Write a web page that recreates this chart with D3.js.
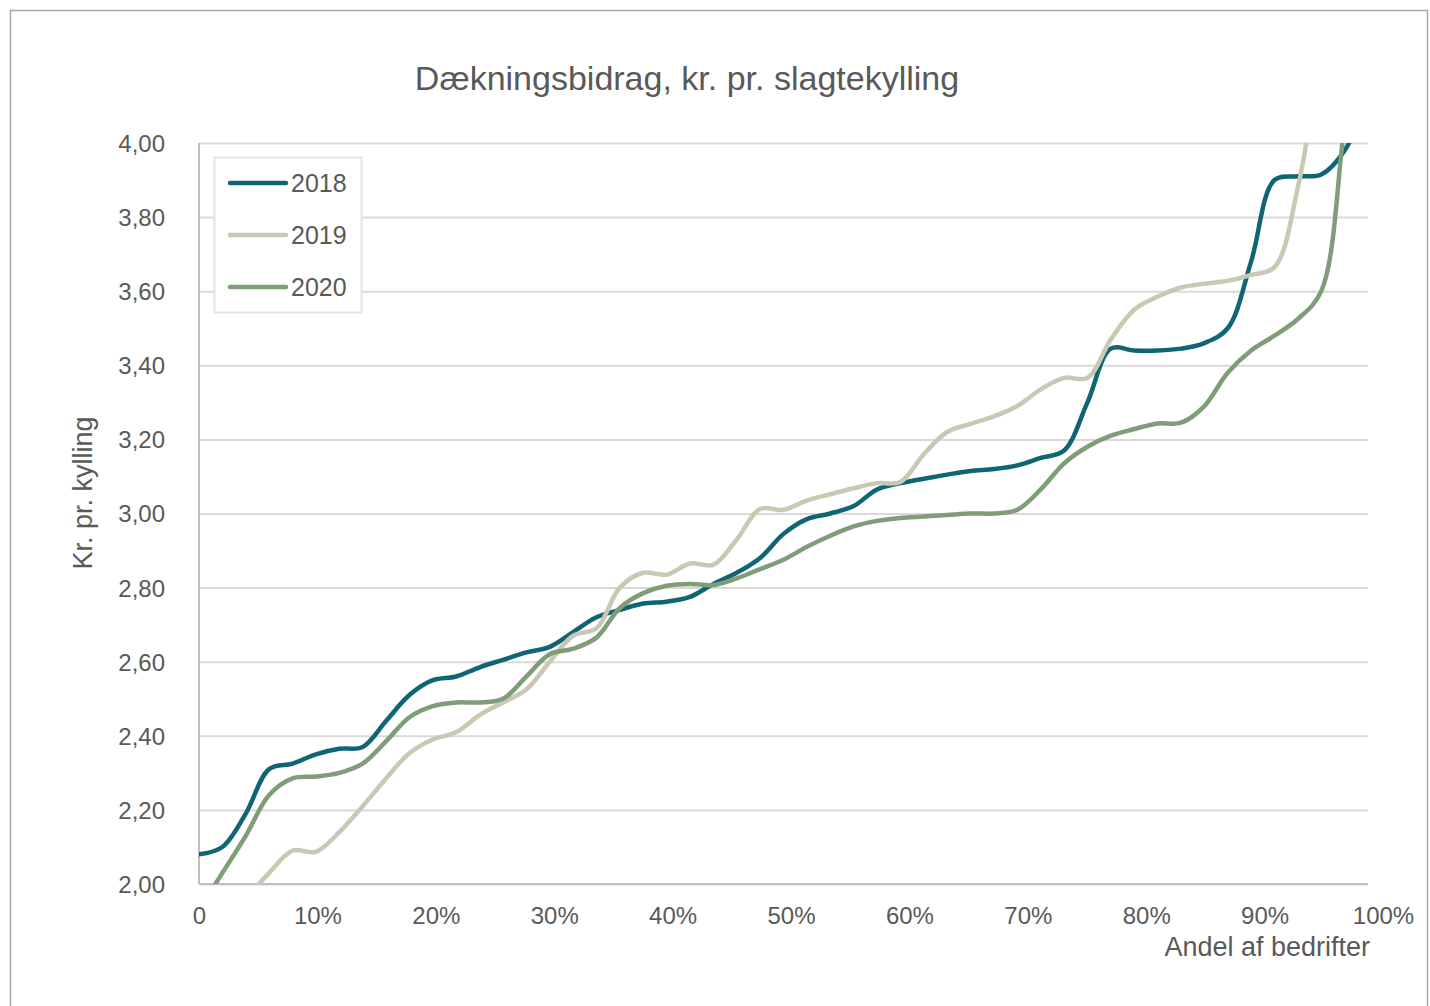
<!DOCTYPE html>
<html>
<head>
<meta charset="utf-8">
<script src="https://cdn.jsdelivr.net/npm/d3@7"></script>
<style>
  body { margin: 0; background: #fff; }
  text { font-family: "Liberation Sans", Arial, sans-serif; fill: #595959; }
  .grid line { stroke: #d9d9d9; stroke-width: 2; }
  .line { fill: none; stroke-width: 4.5; stroke-linecap: round; }
</style>
</head>
<body>
<div id="chart"></div>
<script>
// share of farms (x, percent) - one point every 2 %
var shares = [0, 2, 4, 6, 8, 10, 12, 14, 16, 18, 20, 22, 24, 26, 28, 30, 32, 34, 36, 38, 40,
  42, 44, 46, 48, 50, 52, 54, 56, 58, 60, 62, 64, 66, 68, 70, 72, 74, 76, 78, 80,
  82, 84, 86, 88, 90, 92, 94, 96, 98, 100];

// kr. pr. kylling
var values2018 = [2.08, 2.10, 2.19, 2.31, 2.325, 2.35, 2.365, 2.37, 2.44, 2.51, 2.55,
  2.56, 2.585, 2.605, 2.625, 2.64, 2.68, 2.72, 2.74, 2.757, 2.762,
  2.775, 2.81, 2.84, 2.88, 2.945, 2.985, 3.00, 3.02, 3.065, 3.082,
  3.094, 3.105, 3.115, 3.12, 3.13, 3.15, 3.17, 3.30, 3.445, 3.44,
  3.44, 3.445, 3.46, 3.50, 3.68, 3.90, 3.91, 3.915, 3.98, 4.12];

var values2019 = [1.82, 1.89, 1.96, 2.03, 2.09, 2.087, 2.14, 2.21, 2.285, 2.353, 2.39,
  2.41, 2.456, 2.49, 2.525, 2.60, 2.67, 2.69, 2.80, 2.84, 2.835,
  2.865, 2.862, 2.93, 3.012, 3.01, 3.035, 3.052, 3.068, 3.082, 3.085,
  3.16, 3.22, 3.242, 3.262, 3.29, 3.335, 3.366, 3.366, 3.47, 3.55,
  3.585, 3.61, 3.62, 3.628, 3.644, 3.665, 3.88, 4.25, 4.6, 4.9];

var values2020 = [1.93, 2.03, 2.13, 2.24, 2.285, 2.29, 2.30, 2.325, 2.385, 2.45, 2.48,
  2.49, 2.49, 2.50, 2.56, 2.62, 2.635, 2.665, 2.745, 2.785, 2.805,
  2.81, 2.807, 2.825, 2.85, 2.875, 2.91, 2.94, 2.965, 2.98, 2.988,
  2.992, 2.996, 3.00, 3.00, 3.01, 3.065, 3.135, 3.18, 3.21, 3.228,
  3.243, 3.245, 3.29, 3.38, 3.44, 3.48, 3.525, 3.60, 4.05, 4.5];

var seriesNames = ["2018", "2019", "2020"];
var seriesColors = ["#0f6573", "#c8c9b3", "#7f9d78"];

var yTicks = [2.0, 2.2, 2.4, 2.6, 2.8, 3.0, 3.2, 3.4, 3.6, 3.8, 4.0];
var xTicks = [0, 10, 20, 30, 40, 50, 60, 70, 80, 90, 100];

var title = "Dækningsbidrag, kr. pr. slagtekylling";
var xTitle = "Andel af bedrifter";
var yTitle = "Kr. pr. kylling";

// dimensions
var W = 1430, H = 1006;
var margin = {top: 143, right: 62, bottom: 122, left: 199};
var width = W - margin.left - margin.right,
  height = H - margin.top - margin.bottom;

var svg = d3.select("#chart").append("svg")
  .attr("width", W)
  .attr("height", H);

// outer frame
svg.append("rect")
  .attr("x", 10.5).attr("y", 10.5)
  .attr("width", 1417).attr("height", 1010)
  .attr("fill", "none")
  .attr("stroke", "#a6a6a6")
  .attr("stroke-width", 1.5);

svg.append("text")
  .attr("x", 687).attr("y", 90)
  .attr("text-anchor", "middle")
  .style("font-size", "34px")
  .text(title);

var g = svg.append("g")
  .attr("transform", "translate(" + margin.left + "," + margin.top + ")");

var x = d3.scaleLinear().domain([0, 100]).range([0, width]);
var y = d3.scaleLinear().domain([2, 4]).range([height, 0]);
// the category labels of the original sit a little wider than the plot
var xLabel = x.copy().range([0, width + 15]);

// gridlines
g.append("g")
  .attr("class", "grid")
  .call(d3.axisLeft(y).tickValues(yTicks).tickSize(-width).tickFormat(""))
  .call(function (s) { s.select(".domain").remove(); });

// y axis labels
var yAxis = g.append("g")
  .call(d3.axisLeft(y).tickValues(yTicks).tickSize(0).tickPadding(34)
    .tickFormat(function (d) { return d3.format(".2f")(d).replace(".", ","); }));
yAxis.select(".domain").remove();
yAxis.selectAll("text").style("font-size", "24px").attr("dy", "0.35em");

// x axis labels
var xAxis = g.append("g")
  .attr("transform", "translate(0," + height + ")")
  .call(d3.axisBottom(xLabel).tickValues(xTicks).tickSize(0).tickPadding(23)
    .tickFormat(function (d) { return d === 0 ? "0" : d + "%"; }));
xAxis.select(".domain").remove();
xAxis.selectAll("text").style("font-size", "24px");

// axis lines
g.append("line")
  .attr("x1", 0).attr("x2", 0).attr("y1", 0).attr("y2", height)
  .attr("stroke", "#bfbfbf").attr("stroke-width", 2);
g.append("line")
  .attr("x1", 0).attr("x2", width).attr("y1", height).attr("y2", height)
  .attr("stroke", "#bfbfbf").attr("stroke-width", 2);

// axis titles
svg.append("text")
  .attr("x", margin.left + width + 2).attr("y", 956)
  .attr("text-anchor", "end")
  .style("font-size", "27px")
  .text(xTitle);

svg.append("text")
  .attr("transform", "translate(92,493) rotate(-90)")
  .attr("text-anchor", "middle")
  .style("font-size", "27px")
  .text(yTitle);

// clip lines to the plot area
svg.append("defs").append("clipPath")
  .attr("id", "plotClip")
  .append("rect")
  .attr("x", 0).attr("y", 0)
  .attr("width", width).attr("height", height);

var line = d3.line()
  .x(function (d) { return x(d[0]); })
  .y(function (d) { return y(d[1]); })
  .curve(d3.curveCatmullRom.alpha(0.5));

var allValues = [values2018, values2019, values2020];

var lines = g.append("g").attr("clip-path", "url(#plotClip)");
allValues.forEach(function (vals, i) {
  lines.append("path")
    .datum(d3.zip(shares, vals))
    .attr("class", "line")
    .attr("stroke", seriesColors[i])
    .attr("d", line);
});

// legend
var legend = svg.append("g").attr("transform", "translate(214,157)");
legend.append("rect")
  .attr("x", 0.5).attr("y", 0.5)
  .attr("width", 147).attr("height", 155)
  .attr("fill", "#fff")
  .attr("stroke", "#e6e6dc")
  .attr("stroke-width", 2);

var item = legend.selectAll(".item")
  .data(seriesNames)
  .enter().append("g")
  .attr("transform", function (d, i) { return "translate(16," + (26 + i * 52) + ")"; });

item.append("line")
  .attr("x1", 0).attr("x2", 56)
  .attr("stroke", function (d, i) { return seriesColors[i]; })
  .attr("stroke-width", 4.5)
  .attr("stroke-linecap", "round");

item.append("text")
  .attr("x", 61).attr("dy", "0.35em")
  .style("font-size", "25px")
  .text(function (d) { return d; });
</script>
</body>
</html>
